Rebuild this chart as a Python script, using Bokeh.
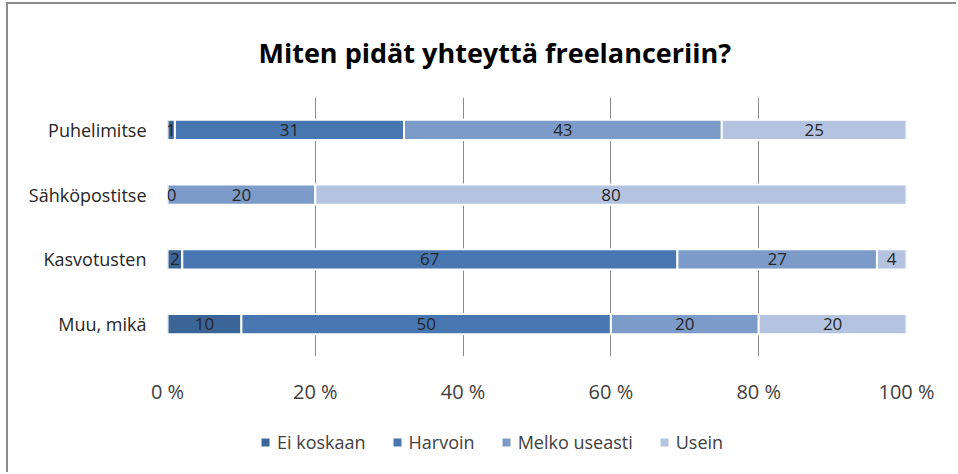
from bokeh.plotting import figure
from bokeh.models import Range1d, Legend, LegendItem, ColumnDataSource, FixedTicker
from bokeh.layouts import column
from bokeh.core.properties import value
from bokeh.embed import file_html
from bokeh.resources import INLINE

categories = ["Puhelimitse", "Sähköpostitse", "Kasvotusten", "Muu, mikä"]
series = ["Ei koskaan", "Harvoin", "Melko useasti", "Usein"]
ei_koskaan = [1, 0, 2, 10]
harvoin = [31, 0, 67, 50]
melko_useasti = [43, 20, 27, 20]
usein = [25, 80, 4, 20]
colors = ["#3c6597", "#4876b0", "#7c9bc8", "#b4c4e0"]
ticks = [0, 20, 40, 60, 80, 100]
tick_labels = ["0 %", "20 %", "40 %", "60 %", "80 %", "100 %"]
title_text = "Miten pidät yhteyttä freelanceriin?"

FONT = "Open Sans"
W = 948

data = {"cat": categories}
for name, vals in zip(series, [ei_koskaan, harvoin, melko_useasti, usein]):
    data[name] = vals
source = ColumnDataSource(data)

p = figure(width=W, height=412, y_range=list(reversed(categories)),
           x_range=Range1d(0, 100), output_backend="svg", toolbar_location=None,
           min_border_left=159, min_border_right=50, min_border_top=93,
           min_border_bottom=60)

renderers = p.hbar_stack(series, y="cat", height=0.31, color=colors,
                         line_color="white", line_width=2, source=source)

# data labels
lx, ly, lt, lo = [], [], [], []
for i, cat in enumerate(categories):
    start = 0
    seen = set()
    for vals in [ei_koskaan, harvoin, melko_useasti, usein]:
        v = vals[i]
        key = (start + v / 2, str(v))
        if key not in seen:
            seen.add(key)
            lx.append(start + v / 2)
            ly.append(cat)
            lt.append(str(v))
            lo.append(4 if v == 0 else 0)
        start += v
lsrc = ColumnDataSource(dict(x=lx, y=ly, text=lt, xo=lo))
p.text(x="x", y="y", text="text", x_offset="xo", source=lsrc,
       text_align="center", text_baseline="middle",
       text_font=value(FONT), text_font_size="17px", text_color="#262626")

p.title.text = title_text
p.title.align = "left"
p.title.offset = 91
p.title.standoff = 54
p.title.text_font = FONT
p.title.text_font_size = "27px"
p.title.text_font_style = "bold"
p.title.text_color = "#000000"

p.outline_line_color = None
p.ygrid.grid_line_color = None
p.xgrid.grid_line_color = "#8a8a8a"
p.xgrid.grid_line_width = 1
p.xaxis.ticker = FixedTicker(ticks=ticks)
p.xaxis.major_label_overrides = {t: l for t, l in zip(ticks, tick_labels)}
p.xaxis.axis_line_color = None
p.xaxis.major_tick_line_color = None
p.xaxis.minor_tick_line_color = None
p.xaxis.major_label_standoff = 15
p.xaxis.major_label_text_font = FONT
p.xaxis.major_label_text_font_size = "20px"
p.xaxis.major_label_text_color = "#404040"

p.yaxis.axis_line_color = None
p.yaxis.major_tick_line_color = None
p.yaxis.minor_tick_line_color = None
p.yaxis.major_label_standoff = 15
p.yaxis.major_label_text_font = FONT
p.yaxis.major_label_text_font_size = "18px"
p.yaxis.major_label_text_color = "#262626"

# legend strip: zero-height copies of the series, only their legend shows
p2 = figure(width=W, height=56, x_range=Range1d(0, 100),
            y_range=list(reversed(categories)),
            x_axis_location=None, y_axis_location=None,
            output_backend="svg", toolbar_location=None,
            min_border_left=0, min_border_right=0, min_border_top=0,
            min_border_bottom=0)
p2.grid.grid_line_color = None
p2.outline_line_color = None
leg_renderers = p2.hbar_stack(series, y="cat", height=0, fill_color=colors,
                              line_color=None, source=source)
items = [LegendItem(label=s, renderers=[r]) for s, r in zip(series, leg_renderers)]
legend = Legend(items=items, orientation="horizontal", location=(93, 18),
                glyph_width=10, glyph_height=10, label_standoff=7, spacing=26,
                label_text_font=FONT, label_text_font_size="18px",
                label_text_color="#404040", border_line_color=None,
                background_fill_alpha=0, margin=0, padding=0)
p2.add_layout(legend, "center")

layout = column(p, p2, spacing=0, margin=(2, 0, 0, 6),
                styles={"border-left": "2px solid #8c8c8c",
                        "border-top": "2px solid #8c8c8c"})
open("out.html", "w").write(file_html(layout, INLINE))
